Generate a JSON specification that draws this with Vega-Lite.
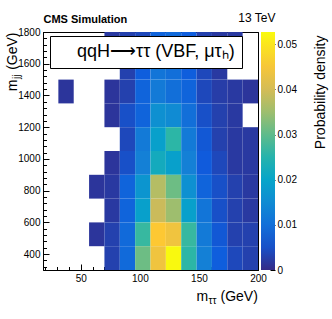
{
  "$schema": "https://vega.github.io/schema/vega-lite/v6.json",
  "width": 215,
  "height": 238,
  "autosize": "none",
  "padding": {"left": 43, "top": 32, "right": 74, "bottom": 49},
  "background": "white",
  "config": {
    "view": {"stroke": "black", "strokeWidth": 1},
    "font": "Liberation Sans",
    "axis": {
      "grid": false, "domain": false, "zindex": 1,
      "labelFont": "Liberation Sans", "titleFont": "Liberation Sans",
      "labelColor": "black", "titleColor": "black", "tickColor": "black", "domainColor": "black",
      "labelFontSize": 10, "labelFlush": false, "labelOverlap": false, "labelBound": false,
      "titleFontWeight": "normal", "titleBaseline": "alphabetic"
    }
  },
  "datasets": {
    "h": [
      {"x0": 70, "x1": 83, "y0": 1650, "y1": 1800, "d": 0.002},
      {"x0": 83, "x1": 96, "y0": 1650, "y1": 1800, "d": 0.003},
      {"x0": 96, "x1": 109, "y0": 1650, "y1": 1800, "d": 0.004},
      {"x0": 109, "x1": 122, "y0": 1650, "y1": 1800, "d": 0.008},
      {"x0": 122, "x1": 135, "y0": 1650, "y1": 1800, "d": 0.009},
      {"x0": 135, "x1": 148, "y0": 1650, "y1": 1800, "d": 0.007},
      {"x0": 148, "x1": 161, "y0": 1650, "y1": 1800, "d": 0.003},
      {"x0": 161, "x1": 174, "y0": 1650, "y1": 1800, "d": 0.002},
      {"x0": 174, "x1": 187, "y0": 1650, "y1": 1800, "d": 0.002},

      {"x0": 83, "x1": 96, "y0": 1500, "y1": 1650, "d": 0.003},
      {"x0": 96, "x1": 109, "y0": 1500, "y1": 1650, "d": 0.007},
      {"x0": 109, "x1": 122, "y0": 1500, "y1": 1650, "d": 0.011},
      {"x0": 122, "x1": 135, "y0": 1500, "y1": 1650, "d": 0.010},
      {"x0": 135, "x1": 148, "y0": 1500, "y1": 1650, "d": 0.007},
      {"x0": 148, "x1": 161, "y0": 1500, "y1": 1650, "d": 0.004},
      {"x0": 161, "x1": 174, "y0": 1500, "y1": 1650, "d": 0.002},

      {"x0": 31, "x1": 44, "y0": 1350, "y1": 1500, "d": 0.0015},
      {"x0": 70, "x1": 83, "y0": 1350, "y1": 1500, "d": 0.0015},
      {"x0": 83, "x1": 96, "y0": 1350, "y1": 1500, "d": 0.003},
      {"x0": 96, "x1": 109, "y0": 1350, "y1": 1500, "d": 0.008},
      {"x0": 109, "x1": 122, "y0": 1350, "y1": 1500, "d": 0.012},
      {"x0": 122, "x1": 135, "y0": 1350, "y1": 1500, "d": 0.010},
      {"x0": 135, "x1": 148, "y0": 1350, "y1": 1500, "d": 0.008},
      {"x0": 148, "x1": 161, "y0": 1350, "y1": 1500, "d": 0.004},
      {"x0": 161, "x1": 174, "y0": 1350, "y1": 1500, "d": 0.0025},
      {"x0": 174, "x1": 187, "y0": 1350, "y1": 1500, "d": 0.002},
      {"x0": 187, "x1": 200, "y0": 1350, "y1": 1500, "d": 0.0015},

      {"x0": 70, "x1": 83, "y0": 1200, "y1": 1350, "d": 0.0015},
      {"x0": 83, "x1": 96, "y0": 1200, "y1": 1350, "d": 0.005},
      {"x0": 96, "x1": 109, "y0": 1200, "y1": 1350, "d": 0.008},
      {"x0": 109, "x1": 122, "y0": 1200, "y1": 1350, "d": 0.016},
      {"x0": 122, "x1": 135, "y0": 1200, "y1": 1350, "d": 0.015},
      {"x0": 135, "x1": 148, "y0": 1200, "y1": 1350, "d": 0.010},
      {"x0": 148, "x1": 161, "y0": 1200, "y1": 1350, "d": 0.005},
      {"x0": 161, "x1": 174, "y0": 1200, "y1": 1350, "d": 0.003},
      {"x0": 174, "x1": 187, "y0": 1200, "y1": 1350, "d": 0.002},

      {"x0": 83, "x1": 96, "y0": 1050, "y1": 1200, "d": 0.004},
      {"x0": 96, "x1": 109, "y0": 1050, "y1": 1200, "d": 0.012},
      {"x0": 109, "x1": 122, "y0": 1050, "y1": 1200, "d": 0.019},
      {"x0": 122, "x1": 135, "y0": 1050, "y1": 1200, "d": 0.026},
      {"x0": 135, "x1": 148, "y0": 1050, "y1": 1200, "d": 0.012},
      {"x0": 148, "x1": 161, "y0": 1050, "y1": 1200, "d": 0.006},
      {"x0": 161, "x1": 174, "y0": 1050, "y1": 1200, "d": 0.003},
      {"x0": 174, "x1": 187, "y0": 1050, "y1": 1200, "d": 0.002},
      {"x0": 187, "x1": 200, "y0": 1050, "y1": 1200, "d": 0.002},

      {"x0": 70, "x1": 83, "y0": 900, "y1": 1050, "d": 0.0015},
      {"x0": 83, "x1": 96, "y0": 900, "y1": 1050, "d": 0.005},
      {"x0": 96, "x1": 109, "y0": 900, "y1": 1050, "d": 0.013},
      {"x0": 109, "x1": 122, "y0": 900, "y1": 1050, "d": 0.022},
      {"x0": 122, "x1": 135, "y0": 900, "y1": 1050, "d": 0.019},
      {"x0": 135, "x1": 148, "y0": 900, "y1": 1050, "d": 0.013},
      {"x0": 148, "x1": 161, "y0": 900, "y1": 1050, "d": 0.0065},
      {"x0": 161, "x1": 174, "y0": 900, "y1": 1050, "d": 0.004},
      {"x0": 174, "x1": 187, "y0": 900, "y1": 1050, "d": 0.002},
      {"x0": 187, "x1": 200, "y0": 900, "y1": 1050, "d": 0.002},

      {"x0": 57, "x1": 70, "y0": 750, "y1": 900, "d": 0.0015},
      {"x0": 70, "x1": 83, "y0": 750, "y1": 900, "d": 0.002},
      {"x0": 83, "x1": 96, "y0": 750, "y1": 900, "d": 0.008},
      {"x0": 96, "x1": 109, "y0": 750, "y1": 900, "d": 0.017},
      {"x0": 109, "x1": 122, "y0": 750, "y1": 900, "d": 0.037},
      {"x0": 122, "x1": 135, "y0": 750, "y1": 900, "d": 0.031},
      {"x0": 135, "x1": 148, "y0": 750, "y1": 900, "d": 0.016},
      {"x0": 148, "x1": 161, "y0": 750, "y1": 900, "d": 0.008},
      {"x0": 161, "x1": 174, "y0": 750, "y1": 900, "d": 0.005},
      {"x0": 174, "x1": 187, "y0": 750, "y1": 900, "d": 0.003},
      {"x0": 187, "x1": 200, "y0": 750, "y1": 900, "d": 0.002},

      {"x0": 70, "x1": 83, "y0": 600, "y1": 750, "d": 0.002},
      {"x0": 83, "x1": 96, "y0": 600, "y1": 750, "d": 0.008},
      {"x0": 96, "x1": 109, "y0": 600, "y1": 750, "d": 0.019},
      {"x0": 109, "x1": 122, "y0": 600, "y1": 750, "d": 0.039},
      {"x0": 122, "x1": 135, "y0": 600, "y1": 750, "d": 0.035},
      {"x0": 135, "x1": 148, "y0": 600, "y1": 750, "d": 0.019},
      {"x0": 148, "x1": 161, "y0": 600, "y1": 750, "d": 0.011},
      {"x0": 161, "x1": 174, "y0": 600, "y1": 750, "d": 0.005},
      {"x0": 174, "x1": 187, "y0": 600, "y1": 750, "d": 0.003},
      {"x0": 187, "x1": 200, "y0": 600, "y1": 750, "d": 0.002},

      {"x0": 57, "x1": 70, "y0": 450, "y1": 600, "d": 0.0015},
      {"x0": 70, "x1": 83, "y0": 450, "y1": 600, "d": 0.003},
      {"x0": 83, "x1": 96, "y0": 450, "y1": 600, "d": 0.009},
      {"x0": 96, "x1": 109, "y0": 450, "y1": 600, "d": 0.027},
      {"x0": 109, "x1": 122, "y0": 450, "y1": 600, "d": 0.046},
      {"x0": 122, "x1": 135, "y0": 450, "y1": 600, "d": 0.044},
      {"x0": 135, "x1": 148, "y0": 450, "y1": 600, "d": 0.027},
      {"x0": 148, "x1": 161, "y0": 450, "y1": 600, "d": 0.012},
      {"x0": 161, "x1": 174, "y0": 450, "y1": 600, "d": 0.006},
      {"x0": 174, "x1": 187, "y0": 450, "y1": 600, "d": 0.003},
      {"x0": 187, "x1": 200, "y0": 450, "y1": 600, "d": 0.003},

      {"x0": 70, "x1": 83, "y0": 300, "y1": 450, "d": 0.003},
      {"x0": 83, "x1": 96, "y0": 300, "y1": 450, "d": 0.009},
      {"x0": 96, "x1": 109, "y0": 300, "y1": 450, "d": 0.031},
      {"x0": 109, "x1": 122, "y0": 300, "y1": 450, "d": 0.044},
      {"x0": 122, "x1": 135, "y0": 300, "y1": 450, "d": 0.0525},
      {"x0": 135, "x1": 148, "y0": 300, "y1": 450, "d": 0.026},
      {"x0": 148, "x1": 161, "y0": 300, "y1": 450, "d": 0.013},
      {"x0": 161, "x1": 174, "y0": 300, "y1": 450, "d": 0.007},
      {"x0": 174, "x1": 187, "y0": 300, "y1": 450, "d": 0.004},
      {"x0": 187, "x1": 200, "y0": 300, "y1": 450, "d": 0.003}
    ]
  },
  "layer": [
    {
      "data": {"name": "h"},
      "mark": {"type": "rect"},
      "encoding": {
        "x": {
          "field": "x0", "type": "quantitative",
          "scale": {"domain": [18, 200], "nice": false, "zero": false},
          "axis": {"orient": "bottom", "values": [50, 100, 150, 200], "format": "d", "tickSize": -6, "labelPadding": 9, "domain": true,
                   "title": "m", "titleFontSize": 14, "titleX": 153, "titleY": 30, "titleAlign": "left", "titleAngle": 0, "titleBaseline": "alphabetic"}
        },
        "x2": {"field": "x1"},
        "y": {
          "field": "y0", "type": "quantitative",
          "scale": {"domain": [300, 1800], "nice": false, "zero": false},
          "axis": {"orient": "left", "values": [400, 600, 800, 1000, 1200, 1400, 1600, 1800], "format": "d", "tickSize": -6, "labelPadding": 9, "domain": true,
                   "title": null}
        },
        "y2": {"field": "y1"},
        "color": {
          "field": "d", "type": "quantitative",
          "scale": {"domain": [0, 0.0527], "interpolate": "rgb",
                    "range": ["#352a87", "#0f5cdd", "#1481d6", "#06a4ca", "#2eb7a4", "#87bf77", "#d1bb59", "#fec832", "#f9fb0e"]},
          "legend": {"orient": "none", "legendX": 218, "legendY": 0, "direction": "vertical", "title": null,
                     "gradientLength": 238, "gradientThickness": 14, "gradientStrokeWidth": 0, "labelExpr": "''", "padding": 0}
        }
      }
    },
    {
      "data": {"values": [{}]},
      "mark": {"type": "point", "opacity": 0},
      "encoding": {
        "x": {
          "datum": 100, "type": "quantitative",
          "scale": {"domain": [18, 200], "nice": false, "zero": false},
          "axis": {"orient": "bottom", "values": [20, 30, 40, 50, 60, 70, 80, 90, 100, 110, 120, 130, 140, 150, 160, 170, 180, 190, 200],
                   "tickSize": -3.5, "labels": false,
                   "title": "ττ", "titleFontSize": 10, "titleX": 165, "titleY": 33, "titleAlign": "left", "titleAngle": 0, "titleBaseline": "alphabetic"}
        },
        "y": {
          "datum": 1000, "type": "quantitative",
          "scale": {"domain": [300, 1800], "nice": false, "zero": false},
          "axis": {"orient": "left",
                   "values": [320, 360, 400, 440, 480, 520, 560, 600, 640, 680, 720, 760, 800, 840, 880, 920, 960, 1000, 1040, 1080, 1120, 1160, 1200, 1240, 1280, 1320, 1360, 1400, 1440, 1480, 1520, 1560, 1600, 1640, 1680, 1720, 1760, 1800],
                   "tickSize": -3.5, "labels": false,
                   "title": "jj", "titleFontSize": 10, "titleAngle": 270, "titleX": -24, "titleY": 42, "titleAlign": "right", "titleBaseline": "alphabetic"}
        }
      }
    },
    {
      "data": {"values": [{}]},
      "mark": {"type": "point", "opacity": 0},
      "encoding": {
        "x": {
          "datum": 100, "type": "quantitative",
          "scale": {"domain": [18, 200], "nice": false, "zero": false},
          "axis": {"orient": "bottom", "ticks": false, "labels": false,
                   "title": "(GeV)", "titleFontSize": 14, "titleX": 177, "titleY": 30, "titleAlign": "left", "titleAngle": 0, "titleBaseline": "alphabetic"}
        },
        "y": {
          "datum": 1000, "type": "quantitative",
          "scale": {"domain": [300, 1800], "nice": false, "zero": false},
          "axis": {"orient": "right", "ticks": false, "labels": false, "domain": true, "title": null}
        }
      }
    },
    {
      "data": {"values": [{}]},
      "mark": {"type": "point", "opacity": 0},
      "encoding": {
        "x": {
          "datum": 100, "type": "quantitative",
          "scale": {"domain": [18, 200], "nice": false, "zero": false},
          "axis": {"orient": "top", "ticks": false, "labels": false, "domain": true,
                   "title": "CMS Simulation", "titleFontSize": 11, "titleFontWeight": "bold", "titleX": 0, "titleY": -10, "titleAlign": "left", "titleAngle": 0, "titleBaseline": "alphabetic"}
        },
        "y": {
          "datum": 0.02, "type": "quantitative",
          "scale": {"domain": [0, 0.0527], "nice": false, "zero": false},
          "axis": {"orient": "right", "offset": 17, "values": [0, 0.01, 0.02, 0.03, 0.04, 0.05], "format": "~g",
                   "tickSize": -5, "labelPadding": 7,
                   "title": "Probability density", "titleFontSize": 14, "titleAngle": 270, "titleX": 49, "titleY": 3, "titleAlign": "right", "titleBaseline": "alphabetic"}
        }
      }
    },
    {
      "data": {"values": [{}]},
      "mark": {"type": "point", "opacity": 0},
      "encoding": {
        "x": {
          "datum": 100, "type": "quantitative",
          "scale": {"domain": [18, 200], "nice": false, "zero": false},
          "axis": {"orient": "top", "ticks": false, "labels": false,
                   "title": "13 TeV", "titleFontSize": 12, "titleX": 232, "titleY": -11, "titleAlign": "right", "titleAngle": 0, "titleBaseline": "alphabetic"}
        },
        "y": {
          "datum": 1000, "type": "quantitative",
          "scale": {"domain": [300, 1800], "nice": false, "zero": false},
          "axis": {"orient": "left", "ticks": false, "labels": false,
                   "title": "(GeV)", "titleFontSize": 14, "titleAngle": 270, "titleX": -27, "titleY": 0, "titleAlign": "right", "titleBaseline": "alphabetic"}
        },
        "shape": {
          "datum": "qqH⟶ττ (VBF, μτₕ)\u00a0\u00a0\u00a0\u00a0", "type": "nominal",
          "legend": {"orient": "none", "legendX": 7, "legendY": 4, "title": null,
                     "strokeColor": "black", "fillColor": "white", "padding": 7,
                     "symbolOpacity": 0, "symbolSize": 0, "symbolStrokeWidth": 0, "labelOffset": 2,
                     "labelFontSize": 18, "labelFont": "Liberation Sans", "labelColor": "black", "labelLimit": 400}
        }
      }
    },
    {
      "data": {"values": [{}]},
      "mark": {"type": "point", "opacity": 0},
      "encoding": {
        "y": {
          "datum": 1000, "type": "quantitative",
          "scale": {"domain": [300, 1800], "nice": false, "zero": false},
          "axis": {"orient": "left", "ticks": false, "labels": false,
                   "title": "m", "titleFontSize": 14, "titleAngle": 270, "titleX": -27, "titleY": 47, "titleAlign": "right", "titleBaseline": "alphabetic"}
        }
      }
    }
  ],
  "resolve": {"scale": {"y": "independent"}, "axis": {"x": "independent", "y": "independent"}}
}
